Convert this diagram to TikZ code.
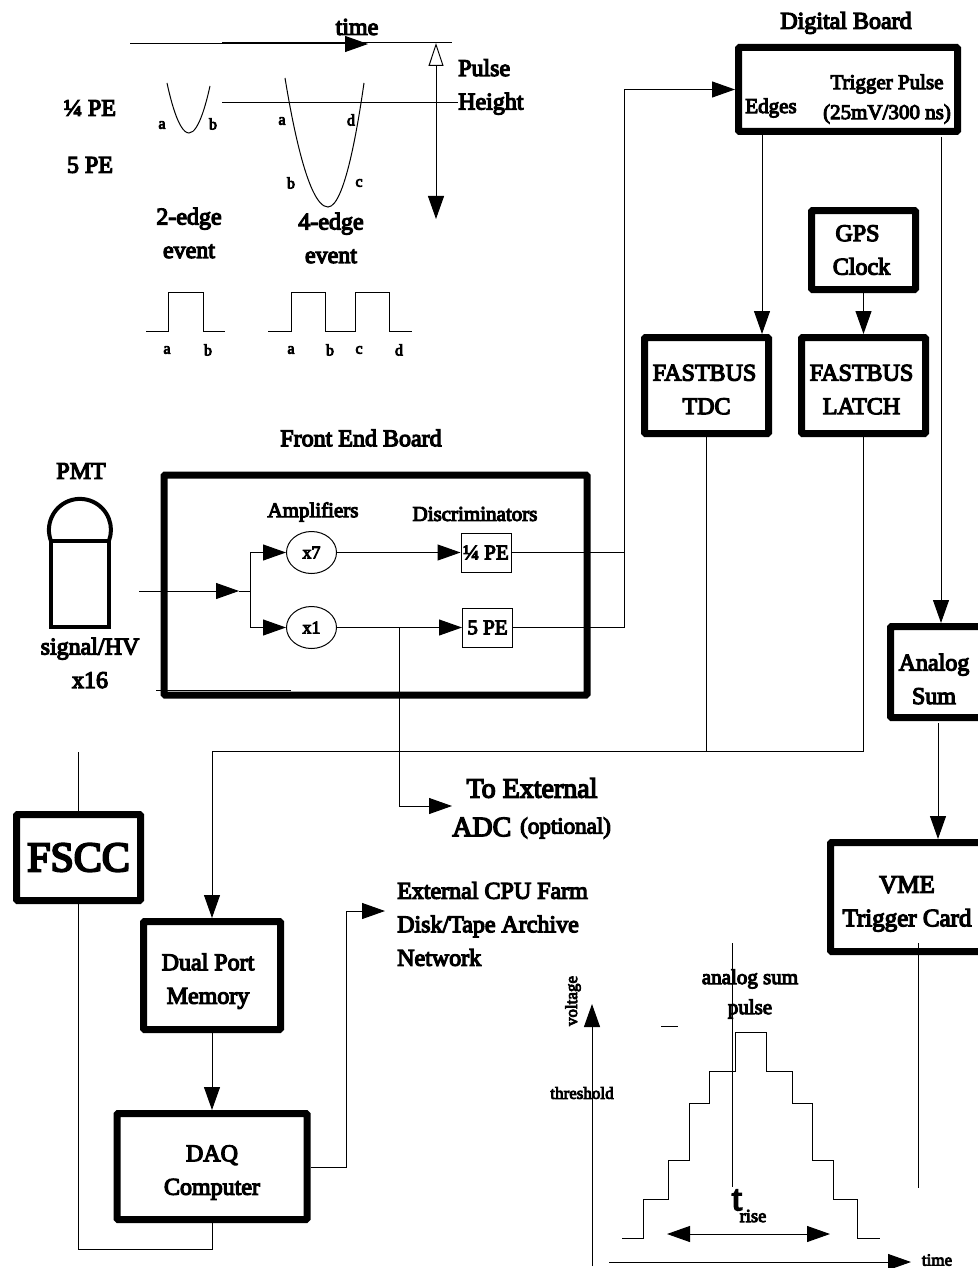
\documentclass[tikz,border=0pt]{standalone}
\usepackage{fontspec}
\setmainfont{Liberation Serif}[FakeBold=5]
\usepackage{tikz}
\usetikzlibrary{shapes.geometric, arrows.meta, positioning}
\newcommand{\drop}[1]{\rule{0pt}{#1pt}}

\begin{document}
\begin{tikzpicture}[
    x=1pt, y=-1pt,
    block/.style={rectangle, draw, line width=7pt, rounded corners=1pt, align=center, inner sep=0pt, font=\fontsize{24}{33.5}\selectfont},
    disc/.style={rectangle, draw, line width=1pt, minimum width=50pt, minimum height=39pt, inner sep=0pt, font=\fontsize{21}{25}\selectfont},
    amp/.style={ellipse, draw, line width=1pt, minimum width=50pt, minimum height=42pt, inner sep=0pt, font=\fontsize{18}{22}\selectfont},
    big/.style={inner sep=0pt, align=center, font=\fontsize{24}{33.5}\selectfont},
    mid/.style={inner sep=0pt, align=center, font=\fontsize{21}{30}\selectfont},
    tiny/.style={inner sep=0pt, font=\fontsize{16}{20}\selectfont},
    wire/.style={draw, line width=1pt},
    line/.style={draw, line width=1pt, -{Triangle[length=23pt, width=16pt]}},
    both/.style={draw, line width=1pt, {Triangle[length=23pt, width=16pt]}-{Triangle[length=23pt, width=16pt]}}
]
    \useasboundingbox (0,0) rectangle (977,1268);

    % Blocos
    \node (digital) [block, minimum width=219pt, minimum height=84pt] at (848,89.5) {};
    \node (tdc) [block, minimum width=124pt, minimum height=96pt] at (706.5,385.5) {\drop{24}\hspace*{-4pt}FASTBUS \\ TDC};
    \node (latch) [block, minimum width=124pt, minimum height=96pt, right=26pt of tdc] {\drop{24}\hspace*{-4pt}FASTBUS \\ \hspace*{-4pt}LATCH};
    \node (gps) [block, minimum width=104pt, minimum height=79pt, above=41pt of latch] {\hspace*{-12pt}GPS \\ \hspace*{-4pt}Clock};
    \node (sum) [block, minimum width=101pt, minimum height=91pt] at (941,672) {};
    \node (vme) [block, minimum width=215pt, minimum height=109pt] at (938,897) {};
    \node (front) [block, minimum width=423pt, minimum height=220pt] at (375.5,585) {};
    \node (fscc) [block, minimum width=124pt, minimum height=86pt, font=\fontsize{42}{46}\selectfont] at (78.5,857.5) {FSCC};
    \node (dual) [block, minimum width=137pt, minimum height=108pt] at (212,975.5) {\drop{28}\hspace*{-8pt}Dual Port \\ \hspace*{-8pt}Memory};
    \node (daq) [block, minimum width=190pt, minimum height=106pt, below=77pt of dual] {\drop{28}DAQ \\ Computer};
    \node (pmt) [rectangle, draw, line width=4pt, outer sep=0pt, minimum width=58pt, minimum height=86pt] at (80,584) {};
    \draw [line width=4pt] (pmt.north west) arc[start angle=201, end angle=-21, radius=31pt];

    % Amplificadores e discriminadores
    \node (x7) [amp] at (311.5,552.5) {x7};
    \node (x1) [amp] at (311.5,627.5) {x1};
    \node (quarter) [disc] at (486,552.5) {¼ PE};
    \node (five) [disc] at (487.5,627.5) {5 PE};

    % Textos
    \node (digitalTitle) [big] at (846,23) {Digital Board};
    \node (edges) [mid] at (771,108) {Edges};
    \node (trigger) [mid] at (887,99) {Trigger Pulse \\ (25mV/300 ns)};
    \node (sumText) [big] at (934,679) {Analog \\ Sum};
    \node (vmeText) [big, font=\fontsize{25}{33.5}\selectfont] at (907,904) {VME \\ Trigger Card};
    \node (frontTitle) [big] at (361,438) {Front End Board};
    \node (pmtTitle) [big] at (81,471) {PMT};
    \node (pmtText) [big] at (90,663) {signal/HV \\ x16};
    \node (ampTitle) [mid] at (313,512) {Amplifiers};
    \node (discTitle) [mid] at (475,514) {Discriminators};
    \node (adcTop) [big, font=\fontsize{28}{33}\selectfont] at (532,788) {To External};
    \node (adc) [big, font=\fontsize{28}{33}\selectfont, anchor=west] at (452,827) {ADC};
    \node (optional) [big, font=\fontsize{23}{30}\selectfont, anchor=west] at (520,828) {(optional)};
    \node (farm) [big, anchor=west, align=left] at (397,924) {External CPU Farm \\ Disk/Tape Archive \\ Network};

    % Sinais no topo
    \node (timeTop) [big] at (357,27) {time};
    \node (height) [big, anchor=west, align=left] at (458,87) {Pulse \\ Height};
    \node (quarterPe) [big] at (90,108) {¼ PE};
    \node (fivePe) [big] at (90,165) {5 PE};
    \node (twoEdge) [big] at (189,233) {2-edge \\ event};
    \node (fourEdge) [big] at (331,238) {4-edge \\ event};
    \node (a1) [tiny] at (162,125) {a};
    \node (b1) [tiny] at (213,124) {b};
    \node (a2) [tiny] at (282,121) {a};
    \node (d2) [tiny] at (351,120) {d};
    \node (b2) [tiny] at (291,183) {b};
    \node (c2) [tiny] at (359,183) {c};
    \node (a3) [tiny] at (167,350) {a};
    \node (b3) [tiny] at (208,350) {b};
    \node (a4) [tiny] at (291,350) {a};
    \node (b4) [tiny] at (330,350) {b};
    \node (c4) [tiny] at (359,350) {c};
    \node (d4) [tiny] at (399,350) {d};

    % Pulso somado
    \node (voltage) [tiny, font=\fontsize{17}{20}\selectfont, rotate=90] at (573,1001) {voltage};
    \node (threshold) [tiny, font=\fontsize{17}{20}\selectfont] at (582,1093) {threshold};
    \node (pulseText) [mid] at (750,994) {analog sum \\ pulse};
    \node (tBig) [big, font=\fontsize{36}{40}\selectfont] at (737,1200) {t};
    \node (tRise) [tiny, font=\fontsize{18.5}{22}\selectfont] at (753,1216) {rise};
    \node (timeLow) [tiny, font=\fontsize{17}{20}\selectfont] at (937,1260) {time};

    % Pontos livres
    \coordinate (inp) at (139,591);
    \coordinate (inpTip) at (239,591);
    \coordinate (split) at (250,591);
    \coordinate (riser) at (624,89.5);
    \coordinate (tap) at (399,627.5);
    \coordinate (adcTip) at (452,806);
    \coordinate (stubA) at (156,690);
    \coordinate (stubB) at (291,690);
    \coordinate (busCorner) at (212,751);
    \coordinate (fsccTop) at (78.5,752);
    \coordinate (loopCorner) at (78.5,1249);
    \coordinate (farmRiser) at (346,1167);
    \coordinate (farmTip) at (385,911);
    \coordinate (trigTop) at (941,137);

    % Conexoes
    \path [line] (inp) -- (inpTip);
    \path [wire] (inpTip) -- (split);
    \path [line] (split) |- (x7);
    \path [line] (split) |- (x1);
    \path [line] (x7) -- (quarter);
    \path [line] (x1) -- (five);
    \path [wire] (quarter) -- (quarter -| riser);
    \path [line] (five) -| (riser) -- (digital);
    \path [line] (tap) |- (adcTip);
    \path [wire] (stubA) -- (stubB);
    \path [line] ([xshift=-86pt]digital.south) -- ([xshift=55.5pt]tdc.north);
    \path [line] (gps) -- (latch);
    \path [line] (trigTop) -- (sum);
    \path [line] ([xshift=-3pt, yshift=-2pt]sum.south) -- (vme);
    \path [wire] (tdc) -- (tdc |- busCorner);
    \path [line] (latch) |- (busCorner) -- (dual);
    \path [line] (dual) -- (daq);
    \path [wire] (fsccTop) -- (fscc);
    \path [wire] (fscc) -- (loopCorner) -| (daq);
    \path [line] (daq.east |- farmRiser) -- (farmRiser) |- (farmTip);

    % Formas de onda
    \coordinate (timeA) at (130,44);
    \coordinate (timeB) at (368,44);
    \coordinate (rulerA) at (222,42.5);
    \coordinate (rulerB) at (452,42.5);
    \coordinate (levelA) at (222,102.5);
    \coordinate (levelB) at (458,102.5);
    \coordinate (heightA) at (436,43);
    \coordinate (heightB) at (436,219);
    \path [line] (timeA) -- (timeB);
    \path [wire] (rulerA) -- (rulerB);
    \path [wire] (levelA) -- (levelB);
    \draw [line width=1pt, {Triangle[open, length=23pt, width=15pt]}-{Triangle[length=23pt, width=16pt]}] (heightA) -- (heightB);
    \draw [line width=1pt] (167,83) parabola bend (189,133) (210,86);
    \draw [line width=1pt] (285,78) parabola bend (328,207) (364,83);
    \draw [line width=1pt] (146,331.5) -- (168,331.5) -- (168,292) -- (203,292) -- (203,331.5) -- (225,331.5);
    \draw [line width=1pt] (268,331.5) -- (291,331.5) -- (291,292) -- (325,292) -- (325,331.5) -- (355,331.5) -- (355,292) -- (389,292) -- (389,331.5) -- (412,331.5);

    % Escada
    \coordinate (axisBase) at (592,1266);
    \coordinate (axisTip) at (592,1004);
    \coordinate (timeAxisA) at (609,1262);
    \coordinate (timeAxisB) at (911,1262);
    \coordinate (riseA) at (667,1234);
    \coordinate (riseB) at (830,1234);
    \coordinate (barA) at (732,943);
    \coordinate (barB) at (732,1187);
    \coordinate (barC) at (918,943);
    \coordinate (barD) at (918,1188);
    \coordinate (tickA) at (661,1026);
    \coordinate (tickB) at (678,1026);
    \path [line] (axisBase) -- (axisTip);
    \path [line] (timeAxisA) -- (timeAxisB);
    \path [both] (riseA) -- (riseB);
    \path [wire] (barA) -- (barB);
    \path [wire] (barC) -- (barD);
    \path [wire] (tickA) -- (tickB);
    \draw [line width=1pt] (622,1238.5) -- (643.5,1238.5) -- (643.5,1199.5) -- (668.5,1199.5) -- (668.5,1160) -- (689.5,1160) -- (689.5,1103.5) -- (709,1103.5) -- (709,1071.5) -- (735.5,1071.5) -- (735.5,1032) -- (766.5,1032) -- (766.5,1071.5) -- (792.5,1071.5) -- (792.5,1103.5) -- (812.5,1103.5) -- (812.5,1160) -- (833.5,1160) -- (833.5,1199.5) -- (857.5,1199.5) -- (857.5,1238.5) -- (879.5,1238.5);
\end{tikzpicture}
\end{document}
